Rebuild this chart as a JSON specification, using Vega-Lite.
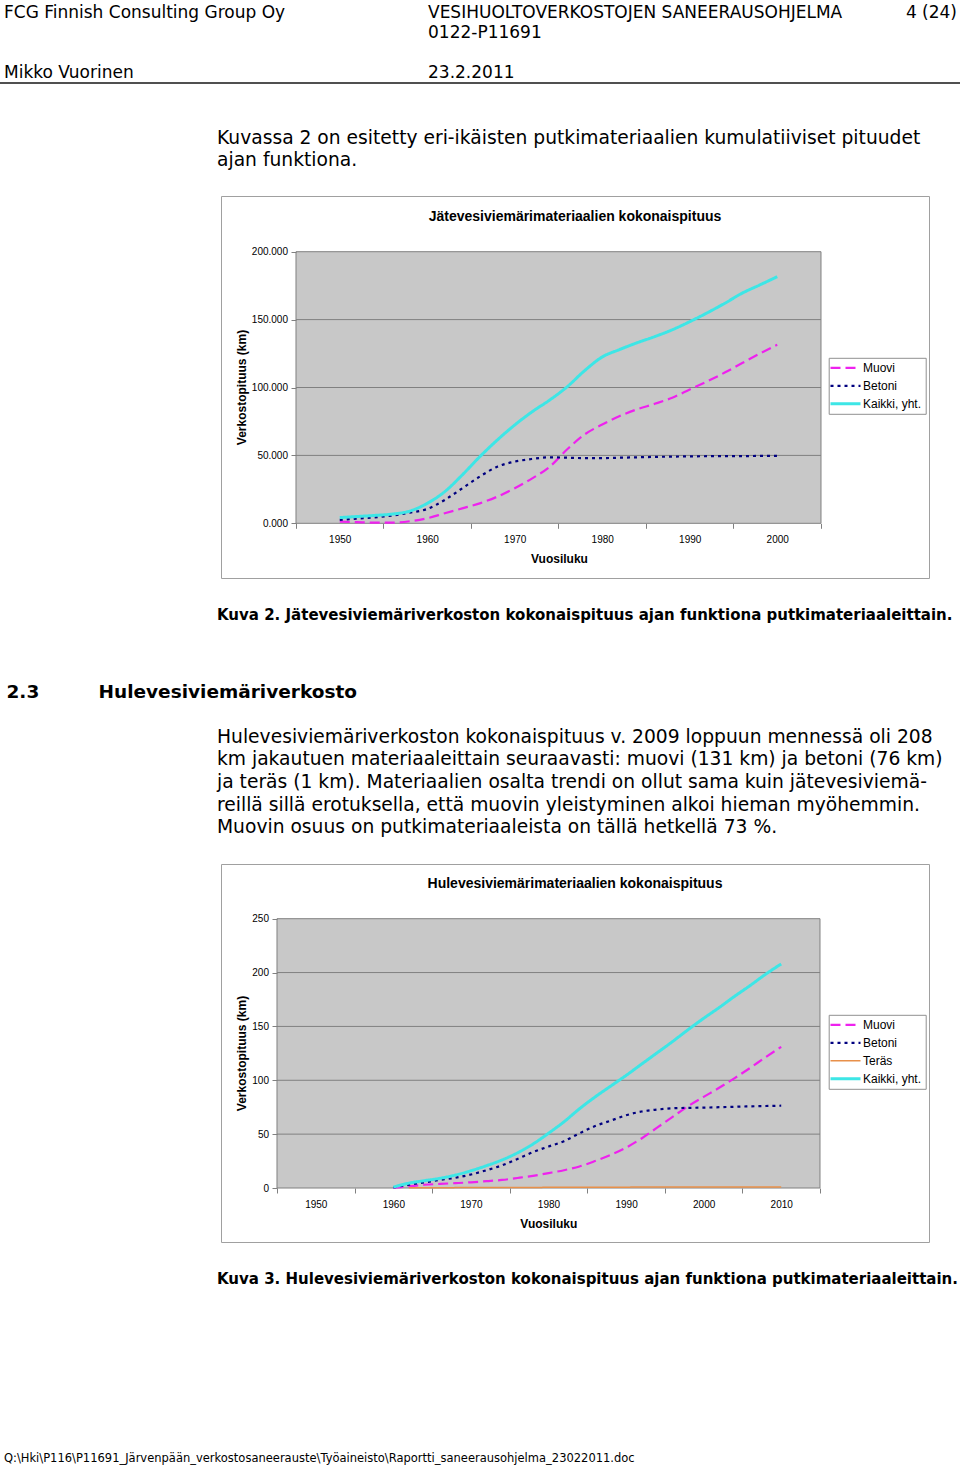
{
  "$schema": "https://vega.github.io/schema/vega-lite/v6.json",
  "padding": 0,
  "background": "white",
  "spacing": 0,
  "resolve": {"scale": {"color": "independent", "strokeDash": "independent"}, "legend": {"color": "independent", "strokeDash": "independent"}},
  "config": {
    "view": {"stroke": null},
    "title": {"anchor": "start", "frame": "group", "orient": "top", "font": "DejaVu Sans", "fontWeight": "normal", "color": "#000000", "fontSize": 18.7, "lineHeight": 22.7},
    "legend": {"title": null, "orient": "none", "strokeColor": "#909090", "fillColor": "#ffffff", "padding": 4, "symbolType": "M-2.5,0H2.5", "symbolSize": 144, "symbolOffset": 6.8, "symbolStrokeWidth": 2.2, "labelOffset": 11.5, "labelFont": "Liberation Sans", "labelFontSize": 12, "labelColor": "#000000", "rowPadding": 6}
  },
  "datasets": {
    "jv": [
      {"year":1950,"series":"Muovi","km":1.2},{"year":1952,"series":"Muovi","km":0.8},{"year":1954,"series":"Muovi","km":0.5},{"year":1956,"series":"Muovi","km":0.5},{"year":1958,"series":"Muovi","km":1.5},{"year":1960,"series":"Muovi","km":3.7},{"year":1962,"series":"Muovi","km":7.4},{"year":1964,"series":"Muovi","km":11},{"year":1966,"series":"Muovi","km":14.7},{"year":1968,"series":"Muovi","km":19.6},{"year":1970,"series":"Muovi","km":25.8},{"year":1972,"series":"Muovi","km":33.1},{"year":1974,"series":"Muovi","km":41.7},{"year":1976,"series":"Muovi","km":54.5},{"year":1978,"series":"Muovi","km":65.5},{"year":1980,"series":"Muovi","km":72.7},{"year":1982,"series":"Muovi","km":79},{"year":1984,"series":"Muovi","km":84},{"year":1986,"series":"Muovi","km":88},{"year":1988,"series":"Muovi","km":92.5},{"year":1990,"series":"Muovi","km":98.5},{"year":1992,"series":"Muovi","km":104.5},{"year":1994,"series":"Muovi","km":111},{"year":1996,"series":"Muovi","km":118},{"year":1998,"series":"Muovi","km":125},{"year":2000,"series":"Muovi","km":131.5},
      {"year":1950,"series":"Betoni","km":2.5},{"year":1952,"series":"Betoni","km":3.5},{"year":1954,"series":"Betoni","km":4.4},{"year":1956,"series":"Betoni","km":5.7},{"year":1958,"series":"Betoni","km":7.8},{"year":1960,"series":"Betoni","km":10.6},{"year":1962,"series":"Betoni","km":17.2},{"year":1964,"series":"Betoni","km":25.8},{"year":1966,"series":"Betoni","km":34.4},{"year":1968,"series":"Betoni","km":41.7},{"year":1970,"series":"Betoni","km":45.4},{"year":1972,"series":"Betoni","km":47.4},{"year":1974,"series":"Betoni","km":48.6},{"year":1976,"series":"Betoni","km":48.3},{"year":1978,"series":"Betoni","km":48},{"year":1980,"series":"Betoni","km":48},{"year":1982,"series":"Betoni","km":48.3},{"year":1984,"series":"Betoni","km":48.6},{"year":1986,"series":"Betoni","km":48.9},{"year":1988,"series":"Betoni","km":49.1},{"year":1990,"series":"Betoni","km":49.3},{"year":1992,"series":"Betoni","km":49.4},{"year":1994,"series":"Betoni","km":49.5},{"year":1996,"series":"Betoni","km":49.5},{"year":1998,"series":"Betoni","km":49.6},{"year":2000,"series":"Betoni","km":49.6},
      {"year":1950,"series":"Kaikki, yht.","km":4.2},{"year":1952,"series":"Kaikki, yht.","km":5.0},{"year":1954,"series":"Kaikki, yht.","km":5.8},{"year":1956,"series":"Kaikki, yht.","km":6.8},{"year":1958,"series":"Kaikki, yht.","km":9.0},{"year":1960,"series":"Kaikki, yht.","km":14.7},{"year":1962,"series":"Kaikki, yht.","km":23.3},{"year":1964,"series":"Kaikki, yht.","km":35.6},{"year":1966,"series":"Kaikki, yht.","km":49},{"year":1968,"series":"Kaikki, yht.","km":61.3},{"year":1970,"series":"Kaikki, yht.","km":72.4},{"year":1972,"series":"Kaikki, yht.","km":82.2},{"year":1974,"series":"Kaikki, yht.","km":90.8},{"year":1976,"series":"Kaikki, yht.","km":100.6},{"year":1978,"series":"Kaikki, yht.","km":112.5},{"year":1980,"series":"Kaikki, yht.","km":122.5},{"year":1982,"series":"Kaikki, yht.","km":128},{"year":1984,"series":"Kaikki, yht.","km":133},{"year":1986,"series":"Kaikki, yht.","km":137.5},{"year":1988,"series":"Kaikki, yht.","km":142.5},{"year":1990,"series":"Kaikki, yht.","km":148.5},{"year":1992,"series":"Kaikki, yht.","km":155},{"year":1994,"series":"Kaikki, yht.","km":162},{"year":1996,"series":"Kaikki, yht.","km":169.5},{"year":1998,"series":"Kaikki, yht.","km":175.5},{"year":2000,"series":"Kaikki, yht.","km":181.6}
    ],
    "hv": [
      {"year":1960,"series":"Muovi","km":0},{"year":1962,"series":"Muovi","km":1.5},{"year":1964,"series":"Muovi","km":3},{"year":1966,"series":"Muovi","km":3.8},{"year":1968,"series":"Muovi","km":4.5},{"year":1970,"series":"Muovi","km":5.3},{"year":1972,"series":"Muovi","km":6.3},{"year":1974,"series":"Muovi","km":7.5},{"year":1976,"series":"Muovi","km":9.3},{"year":1978,"series":"Muovi","km":11.3},{"year":1980,"series":"Muovi","km":13.8},{"year":1982,"series":"Muovi","km":16.5},{"year":1984,"series":"Muovi","km":20},{"year":1986,"series":"Muovi","km":25},{"year":1988,"series":"Muovi","km":30.6},{"year":1990,"series":"Muovi","km":37.5},{"year":1992,"series":"Muovi","km":46},{"year":1994,"series":"Muovi","km":56},{"year":1996,"series":"Muovi","km":66},{"year":1998,"series":"Muovi","km":76},{"year":2000,"series":"Muovi","km":84.6},{"year":2002,"series":"Muovi","km":93},{"year":2004,"series":"Muovi","km":102},{"year":2006,"series":"Muovi","km":111.5},{"year":2008,"series":"Muovi","km":121.5},{"year":2010,"series":"Muovi","km":131},
      {"year":1960,"series":"Betoni","km":0.5},{"year":1962,"series":"Betoni","km":3},{"year":1964,"series":"Betoni","km":5.2},{"year":1966,"series":"Betoni","km":7.5},{"year":1968,"series":"Betoni","km":9.5},{"year":1970,"series":"Betoni","km":12.5},{"year":1972,"series":"Betoni","km":16.5},{"year":1974,"series":"Betoni","km":21},{"year":1976,"series":"Betoni","km":27},{"year":1978,"series":"Betoni","km":33.3},{"year":1980,"series":"Betoni","km":38.5},{"year":1982,"series":"Betoni","km":43.5},{"year":1984,"series":"Betoni","km":50.8},{"year":1986,"series":"Betoni","km":57.5},{"year":1988,"series":"Betoni","km":62.5},{"year":1990,"series":"Betoni","km":67.5},{"year":1992,"series":"Betoni","km":71},{"year":1994,"series":"Betoni","km":72.8},{"year":1996,"series":"Betoni","km":74},{"year":1998,"series":"Betoni","km":74.4},{"year":2000,"series":"Betoni","km":74.6},{"year":2002,"series":"Betoni","km":75},{"year":2004,"series":"Betoni","km":75.4},{"year":2006,"series":"Betoni","km":75.8},{"year":2008,"series":"Betoni","km":76.1},{"year":2010,"series":"Betoni","km":76.4},
      {"year":1962,"series":"Teräs","km":0.2},{"year":1966,"series":"Teräs","km":0.3},{"year":1970,"series":"Teräs","km":0.4},{"year":1976,"series":"Teräs","km":0.5},{"year":1980,"series":"Teräs","km":0.6},{"year":1986,"series":"Teräs","km":0.7},{"year":1990,"series":"Teräs","km":0.8},{"year":1996,"series":"Teräs","km":0.9},{"year":2000,"series":"Teräs","km":1.0},{"year":2010,"series":"Teräs","km":1.0},
      {"year":1960,"series":"Kaikki, yht.","km":0.8},{"year":1962,"series":"Kaikki, yht.","km":4.5},{"year":1964,"series":"Kaikki, yht.","km":6.8},{"year":1966,"series":"Kaikki, yht.","km":9.0},{"year":1968,"series":"Kaikki, yht.","km":12},{"year":1970,"series":"Kaikki, yht.","km":16},{"year":1972,"series":"Kaikki, yht.","km":20.7},{"year":1974,"series":"Kaikki, yht.","km":26},{"year":1976,"series":"Kaikki, yht.","km":32.6},{"year":1978,"series":"Kaikki, yht.","km":40.8},{"year":1980,"series":"Kaikki, yht.","km":50.8},{"year":1982,"series":"Kaikki, yht.","km":61.5},{"year":1984,"series":"Kaikki, yht.","km":73.6},{"year":1986,"series":"Kaikki, yht.","km":84.5},{"year":1988,"series":"Kaikki, yht.","km":94.5},{"year":1990,"series":"Kaikki, yht.","km":104.5},{"year":1992,"series":"Kaikki, yht.","km":115},{"year":1994,"series":"Kaikki, yht.","km":125.5},{"year":1996,"series":"Kaikki, yht.","km":136},{"year":1998,"series":"Kaikki, yht.","km":147},{"year":2000,"series":"Kaikki, yht.","km":157.5},{"year":2002,"series":"Kaikki, yht.","km":167.5},{"year":2004,"series":"Kaikki, yht.","km":178},{"year":2006,"series":"Kaikki, yht.","km":188},{"year":2008,"series":"Kaikki, yht.","km":198.5},{"year":2010,"series":"Kaikki, yht.","km":208}
    ]
  },
  "vconcat": [
    {
      "hconcat": [
        {"width": 428, "height": 82, "data": {"values": []}, "mark": "point",
         "title": {"text": ["FCG Finnish Consulting Group Oy", "Mikko Vuorinen"], "fontSize": 17, "lineHeight": 60, "dx": 4, "offset": -82.3}},
        {"width": 460, "height": 82, "data": {"values": []}, "mark": "point",
         "title": {"text": ["VESIHUOLTOVERKOSTOJEN SANEERAUSOHJELMA", "0122-P11691"], "subtitle": "23.2.2011", "fontSize": 17, "lineHeight": 20, "subtitleFont": "DejaVu Sans", "subtitleFontSize": 17, "subtitleColor": "#000000", "subtitlePadding": 23, "dx": 0, "offset": -82.3}},
        {"width": 72, "height": 82, "data": {"values": []}, "mark": "point",
         "title": {"text": "4 (24)", "anchor": "end", "fontSize": 17, "dx": -3, "offset": -22.3}}
      ],
      "spacing": 0
    },
    {"width": 960, "height": 2, "data": {"values": []}, "mark": "point", "view": {"fill": "#505050", "stroke": null}},
    {"width": 960, "height": 111, "data": {"values": []}, "mark": "point",
     "title": {"text": ["Kuvassa 2 on esitetty eri-ikäisten putkimateriaalien kumulatiiviset pituudet", "ajan funktiona."], "dx": 217, "offset": -86.1}},
    {
      "hconcat": [
        {"width": 220, "height": 382, "data": {"values": []}, "mark": "point"},
        {
          "width": 708, "height": 382,
          "view": {"stroke": "#a0a0a0", "strokeWidth": 1, "fill": "white"},
          "title": {"text": "Jätevesiviemärimateriaalien kokonaispituus", "anchor": "middle", "font": "Liberation Sans", "fontSize": 14, "fontWeight": "bold", "offset": -28},
          "layer": [
            {"data": {"values": [{}]}, "mark": {"type": "rect", "fill": "#c8c8c8", "stroke": "#808080", "strokeWidth": 1},
             "encoding": {"x": {"datum": 1945, "type": "quantitative"}, "x2": {"datum": 2005}, "y": {"datum": 0, "type": "quantitative"}, "y2": {"datum": 200}}},
            {"data": {"values": [{"v": 50}, {"v": 100}, {"v": 150}]}, "mark": {"type": "rule", "color": "#808080", "strokeWidth": 1},
             "encoding": {"x": {"datum": 1945, "type": "quantitative"}, "x2": {"datum": 2005}, "y": {"field": "v", "type": "quantitative"}}},
            {"data": {"name": "jv"}, "mark": {"type": "line", "interpolate": "monotone"},
             "encoding": {
               "x": {"field": "year", "type": "quantitative",
                     "scale": {"domain": [1936.429, 2017.343], "nice": false, "zero": false},
                     "axis": {"orient": "bottom", "offset": -54.7, "values": [1945,1950,1955,1960,1965,1970,1975,1980,1985,1990,1995,2000,2005], "format": "d", "domain": false, "grid": false, "tickSize": 5, "tickColor": "#808080", "tickWidth": 1, "tickOpacity": {"condition": {"test": "datum.value % 10 == 5", "value": 1}, "value": 0}, "labelExpr": "datum.value % 10 == 0 ? datum.label : ''", "labelFont": "Liberation Sans", "labelFontSize": 10, "labelColor": "#000000", "labelPadding": 6, "labelFlush": false, "labelOverlap": false, "title": "Vuosiluku", "titleFont": "Liberation Sans", "titleFontSize": 12, "titleFontWeight": "bold", "titleColor": "#000000", "titleX": 338, "titleY": 39.4, "titleBaseline": "alphabetic", "zindex": 1}},
               "y": {"field": "km", "type": "quantitative",
                     "scale": {"domain": [-40.28, 241.02], "nice": false, "zero": false},
                     "axis": {"orient": "left", "offset": -75, "values": [0,50,100,150,200], "format": ".3f", "domain": false, "grid": false, "tickSize": 5, "tickColor": "#808080", "labelFont": "Liberation Sans", "labelFontSize": 10, "labelColor": "#000000", "labelPadding": 3.5, "labelOverlap": false, "title": "Verkostopituus (km)", "titleFont": "Liberation Sans", "titleFontSize": 12, "titleFontWeight": "bold", "titleColor": "#000000", "titleX": -50.5, "titleY": 191, "titleBaseline": "alphabetic", "zindex": 1}},
               "color": {"field": "series", "type": "nominal", "scale": {"domain": ["Muovi", "Betoni", "Kaikki, yht."], "range": ["#ee22ee", "#000080", "#3de6e6"]},
                         "legend": {"legendX": 607.7, "legendY": 161.8, "encode": {"symbols": {"update": {"strokeWidth": {"signal": "datum.value === 'Kaikki, yht.' ? 3 : 2.2"}}}}}},
               "strokeDash": {"field": "series", "type": "nominal", "scale": {"domain": ["Muovi", "Betoni", "Kaikki, yht."], "range": [[10, 5], [3, 4], [1, 0]]},
                         "legend": {"legendX": 607.7, "legendY": 161.8, "encode": {"symbols": {"update": {"strokeWidth": {"signal": "datum.value === 'Kaikki, yht.' ? 3 : 2.2"}}}}}},
               "strokeWidth": {"condition": [{"test": "datum.series === 'Kaikki, yht.'", "value": 3}], "value": 2.2}
             }}
          ]
        }
      ],
      "spacing": 0,
      "resolve": {"scale": {"color": "independent", "strokeDash": "independent"}, "legend": {"color": "independent", "strokeDash": "independent"}}
    },
    {"width": 960, "height": 92, "data": {"values": []}, "mark": "point",
     "title": {"text": "Kuva 2. Jätevesiviemäriverkoston kokonaispituus ajan funktiona putkimateriaaleittain.", "fontSize": 15, "fontWeight": "bold", "dx": 217, "offset": -43.7}},
    {
      "hconcat": [
        {"width": 98, "height": 48, "data": {"values": []}, "mark": "point",
         "title": {"text": "2.3", "fontSize": 18.5, "fontWeight": "bold", "dx": 6.5, "offset": -30.5}},
        {"width": 862, "height": 48, "data": {"values": []}, "mark": "point",
         "title": {"text": "Hulevesiviemäriverkosto", "fontSize": 18.5, "fontWeight": "bold", "dx": -0.5, "offset": -30.5}}
      ],
      "spacing": 0
    },
    {"width": 960, "height": 144, "data": {"values": []}, "mark": "point",
     "title": {"text": ["Hulevesiviemäriverkoston kokonaispituus v. 2009 loppuun mennessä oli 208", "km jakautuen materiaaleittain seuraavasti: muovi (131 km) ja betoni (76 km)", "ja teräs (1 km). Materiaalien osalta trendi on ollut sama kuin jätevesiviemä-", "reillä sillä erotuksella, että muovin yleistyminen alkoi hieman myöhemmin.", "Muovin osuus on putkimateriaaleista on tällä hetkellä 73 %."], "dx": 217, "offset": -118.2}},
    {
      "hconcat": [
        {"width": 220, "height": 378, "data": {"values": []}, "mark": "point"},
        {
          "width": 708, "height": 378,
          "view": {"stroke": "#a0a0a0", "strokeWidth": 1, "fill": "white"},
          "title": {"text": "Hulevesiviemärimateriaalien kokonaispituus", "anchor": "middle", "font": "Liberation Sans", "fontSize": 14, "fontWeight": "bold", "offset": -27},
          "layer": [
            {"data": {"values": [{}]}, "mark": {"type": "rect", "fill": "#c8c8c8", "stroke": "#808080", "strokeWidth": 1},
             "encoding": {"x": {"datum": 1945, "type": "quantitative"}, "x2": {"datum": 2015}, "y": {"datum": 0, "type": "quantitative"}, "y2": {"datum": 250}}},
            {"data": {"values": [{"v": 50}, {"v": 100}, {"v": 150}, {"v": 200}]}, "mark": {"type": "rule", "color": "#808080", "strokeWidth": 1},
             "encoding": {"x": {"datum": 1945, "type": "quantitative"}, "x2": {"datum": 2015}, "y": {"field": "v", "type": "quantitative"}}},
            {"data": {"name": "hv"}, "mark": {"type": "line", "interpolate": "monotone"},
             "encoding": {
               "x": {"field": "year", "type": "quantitative",
                     "scale": {"domain": [1937.781, 2029.052], "nice": false, "zero": false},
                     "axis": {"orient": "bottom", "offset": -54, "values": [1945,1950,1955,1960,1965,1970,1975,1980,1985,1990,1995,2000,2005,2010,2015], "format": "d", "domain": false, "grid": false, "tickSize": 5, "tickColor": "#808080", "tickWidth": 1, "tickOpacity": {"condition": {"test": "datum.value % 10 == 5", "value": 1}, "value": 0}, "labelExpr": "datum.value % 10 == 0 ? datum.label : ''", "labelFont": "Liberation Sans", "labelFontSize": 10, "labelColor": "#000000", "labelPadding": 6, "labelFlush": false, "labelOverlap": false, "title": "Vuosiluku", "titleFont": "Liberation Sans", "titleFontSize": 12, "titleFontWeight": "bold", "titleColor": "#000000", "titleX": 327.3, "titleY": 39, "titleBaseline": "alphabetic", "zindex": 1}},
               "y": {"field": "km", "type": "quantitative",
                     "scale": {"domain": [-50.13, 300.78], "nice": false, "zero": false},
                     "axis": {"orient": "left", "offset": -56, "values": [0,50,100,150,200,250], "format": "d", "domain": false, "grid": false, "tickSize": 5, "tickColor": "#808080", "labelFont": "Liberation Sans", "labelFontSize": 10, "labelColor": "#000000", "labelPadding": 3.5, "labelOverlap": false, "title": "Verkostopituus (km)", "titleFont": "Liberation Sans", "titleFontSize": 12, "titleFontWeight": "bold", "titleColor": "#000000", "titleX": -31.5, "titleY": 189, "titleBaseline": "alphabetic", "zindex": 1}},
               "color": {"field": "series", "type": "nominal", "scale": {"domain": ["Muovi", "Betoni", "Teräs", "Kaikki, yht."], "range": ["#ee22ee", "#000080", "#e8904a", "#3de6e6"]},
                         "legend": {"legendX": 607.7, "legendY": 150.8, "encode": {"symbols": {"update": {"strokeWidth": {"signal": "datum.value === 'Kaikki, yht.' ? 3 : (datum.value === 'Teräs' ? 1.5 : 2.2)"}}}}}},
               "strokeDash": {"field": "series", "type": "nominal", "scale": {"domain": ["Muovi", "Betoni", "Teräs", "Kaikki, yht."], "range": [[10, 5], [3, 4], [1, 0], [1, 0]]},
                         "legend": {"legendX": 607.7, "legendY": 150.8, "encode": {"symbols": {"update": {"strokeWidth": {"signal": "datum.value === 'Kaikki, yht.' ? 3 : (datum.value === 'Teräs' ? 1.5 : 2.2)"}}}}}},
               "strokeWidth": {"condition": [{"test": "datum.series === 'Kaikki, yht.'", "value": 3}, {"test": "datum.series === 'Teräs'", "value": 1.5}], "value": 2.2}
             }}
          ]
        }
      ],
      "spacing": 0,
      "resolve": {"scale": {"color": "independent", "strokeDash": "independent"}, "legend": {"color": "independent", "strokeDash": "independent"}}
    },
    {"width": 960, "height": 190, "data": {"values": []}, "mark": "point",
     "title": {"text": "Kuva 3. Hulevesiviemäriverkoston kokonaispituus ajan funktiona putkimateriaaleittain.", "fontSize": 15, "fontWeight": "bold", "dx": 217, "offset": -43.7}},
    {"width": 960, "height": 33, "data": {"values": []}, "mark": "point",
     "title": {"text": "Q:\\Hki\\P116\\P11691_Järvenpään_verkostosaneerauste\\Työaineisto\\Raportti_saneerausohjelma_23022011.doc", "fontSize": 11.5, "dx": 4, "offset": -31.5}}
  ]
}
